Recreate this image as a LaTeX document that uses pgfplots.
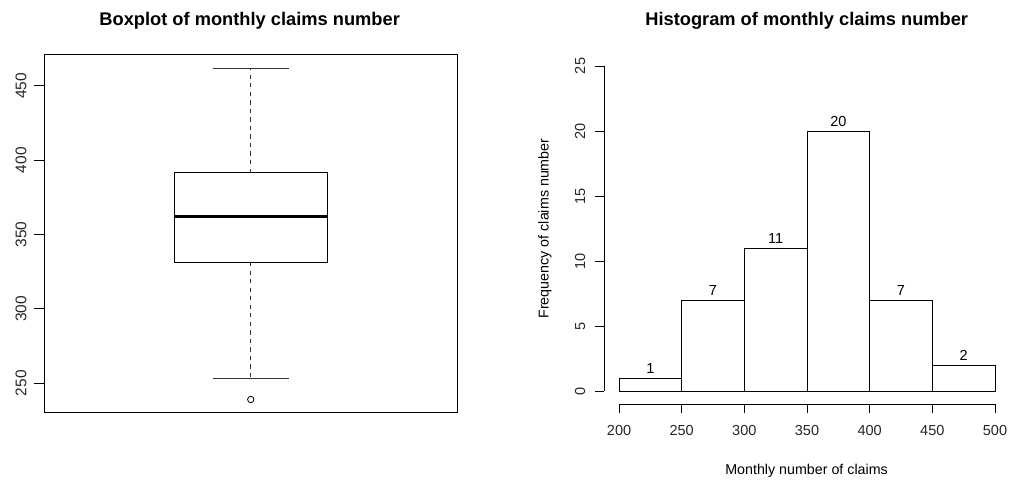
\documentclass[border=0pt]{standalone}
\usepackage{pgfplots}
\pgfplotsset{compat=1.18}
\usepackage{fontspec}
\setmainfont{Liberation Sans}

\begin{document}
\begin{tikzpicture}
\useasboundingbox (0,0) rectangle (756.75pt,359.25pt);

% ---------- Boxplot ----------
\begin{axis}[
  at={(33.2pt,49.7pt)}, anchor=south west,
  scale only axis, width=309.75pt, height=268.5pt,
  xmin=0.46, xmax=1.54, ymin=230.1, ymax=470.9,
  xtick=\empty,
  ytick={250,300,350,400,450},
  ytick pos=left,
  tick align=outside, major tick length=7.5pt,
  tick style={black, line width=0.6pt},
  axis line style={black, line width=0.6pt},
  /pgf/number format/assume math mode=true,
  yticklabel style={rotate=90, anchor=south, yshift=2.25pt, font=\fontsize{11.6pt}{13pt}\selectfont, text=black!85},
  clip=false,
  every axis title shift=0pt,
  title={\bfseries Boxplot of monthly claims number},
  title style={at={(axis description cs:0.4973,1.095)}, anchor=center, font=\fontsize{13.7pt}{16pt}\selectfont},
]
% box: Q1 = 331.5, Q3 = 391.5
\addplot[black, line width=0.7pt] coordinates {(0.8,331.5) (1.2,331.5) (1.2,391.5) (0.8,391.5) (0.8,331.5)};
% median
\addplot[black, line width=2.2pt] coordinates {(0.8,362) (1.2,362)};
% whiskers
\addplot[black!80, line width=0.6pt, dash pattern=on 3.2pt off 3.2pt] coordinates {(1,391.5) (1,462)};
\addplot[black!80, line width=0.6pt, dash pattern=on 3.2pt off 3.2pt] coordinates {(1,331.5) (1,253)};
% whisker caps
\addplot[black!80, line width=0.6pt] coordinates {(0.9,462) (1.1,462)};
\addplot[black!80, line width=0.6pt] coordinates {(0.9,253) (1.1,253)};
% outlier
\addplot[only marks, mark=o, mark size=2.4pt, mark options={black, line width=0.6pt}] coordinates {(1,239)};
\end{axis}

% ---------- Histogram ----------
\begin{axis}[
  at={(453pt,56.025pt)}, anchor=south west,
  scale only axis, width=304.5pt, height=263.5pt,
  xmin=188, xmax=512, ymin=-1, ymax=26,
  xtick={200,250,300,350,400,450,500},
  ytick={0,5,10,15,20,25},
  xtick pos=left, ytick pos=left,
  tick align=outside, major tick length=6.5pt,
  tick style={black, line width=0.6pt},
  axis line style={draw=none},
  /pgf/number format/assume math mode=true,
  ticklabel style={font=\fontsize{10.9pt}{13pt}\selectfont, text=black!85},
  xticklabel style={yshift=-6pt},
  yticklabel style={rotate=90, anchor=south, yshift=4pt},
  clip=false,
  every axis title shift=0pt,
  title={\bfseries Histogram of monthly claims number},
  title style={at={(axis description cs:0.4993,1.092)}, anchor=center, font=\fontsize{13.7pt}{16pt}\selectfont},
  xlabel={Monthly number of claims},
  xlabel style={at={(axis description cs:0.499,-0.19)}, anchor=center, font=\fontsize{10.7pt}{13pt}\selectfont},
  ylabel={Frequency of claims number},
  ylabel style={at={(axis description cs:-0.1453,0.5004)}, rotate=0, anchor=center, font=\fontsize{10.7pt}{13pt}\selectfont},
  ybar, bar width=50, bar shift=0pt,
  nodes near coords,
  every node near coord/.append style={anchor=south, font=\fontsize{10.9pt}{13pt}\selectfont, /pgf/number format/assume math mode=true},
]
\addplot[draw=black, fill=white, line width=0.6pt] coordinates {
  (225,1) (275,7) (325,11) (375,20) (425,7) (475,2)
};
% axis lines over the tick range only
\addplot[black, line width=0.6pt, sharp plot, nodes near coords=] coordinates {(200,-1) (500,-1)};
\addplot[black, line width=0.6pt, sharp plot, nodes near coords=] coordinates {(188,0) (188,25)};
\end{axis}
\end{tikzpicture}
\end{document}
